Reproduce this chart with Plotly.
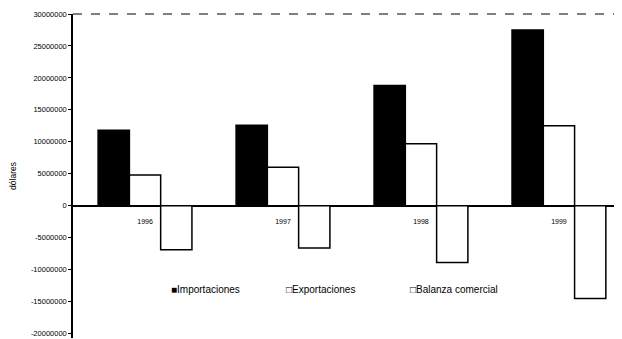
import plotly.graph_objects as go

years = ["1996", "1997", "1998", "1999"]
series_names = ["Importaciones", "Exportaciones", "Balanza comercial"]
importaciones = [11800000, 12600000, 18800000, 27500000]
exportaciones = [4800000, 6000000, 9700000, 12500000]
balanza = [-6900000, -6600000, -8900000, -14500000]
tick_vals = [30000000, 25000000, 20000000, 15000000, 10000000, 5000000, 0,
             -5000000, -10000000, -15000000, -20000000]
tick_text = [str(v) for v in tick_vals]

y_min, y_max = -20700000, 30000000
zero_pos = (0 - y_min) / (y_max - y_min)

fig = go.Figure()
fills = ["black", "white", "white"]
for name, vals, fill in zip(series_names, [importaciones, exportaciones, balanza], fills):
    fig.add_bar(name=name, x=years, y=vals,
                marker=dict(color=fill, line=dict(color="black", width=1.5)))

# compact legend, like the original (small squares right before the text)
legend_x = [0.175, 0.385, 0.61]
symbols = ["■", "□", "□"]
for lx, sym, name in zip(legend_x, symbols, series_names):
    fig.add_annotation(xref="paper", yref="paper", x=lx, y=0.15, xanchor="left",
                       yanchor="middle", showarrow=False, text=sym + name,
                       font=dict(size=10, color="black"))

# the page body has an 8px default margin, so the figure is 8px smaller
fig.update_layout(
    width=614, height=331,
    margin=dict(l=65, r=0, t=6, b=1),
    paper_bgcolor="white", plot_bgcolor="white",
    barmode="group", bargap=0.32, bargroupgap=0,
    font=dict(family="Liberation Sans, Arial", size=7, color="black"),
    showlegend=False,
    yaxis=dict(range=[y_min, y_max], tickvals=tick_vals, ticktext=tick_text,
               automargin=False, ticklabeloverflow="allow",
               tickfont=dict(color="black", size=7.5),
               showgrid=False, zeroline=True, zerolinecolor="black", zerolinewidth=1.5,
               showline=True, linecolor="black", linewidth=1.5,
               ticks="outside", ticklen=3, tickcolor="black",
               title=dict(text="dólares", font=dict(size=8.5, color="black"), standoff=14)),
    xaxis=dict(type="category", anchor="free", position=zero_pos, automargin=False,
               range=[-0.522, 3.457],
               showticklabels=True, tickfont=dict(color="black", size=7),
               ticklabelstandoff=10,
               showgrid=False, showline=False, ticks="", zeroline=False),
    shapes=[dict(type="line", xref="paper", yref="paper", x0=0, x1=1,
                 y0=1, y1=1, line=dict(color="black", width=1, dash="dash"))],
)

fig.write_html("out.html")
